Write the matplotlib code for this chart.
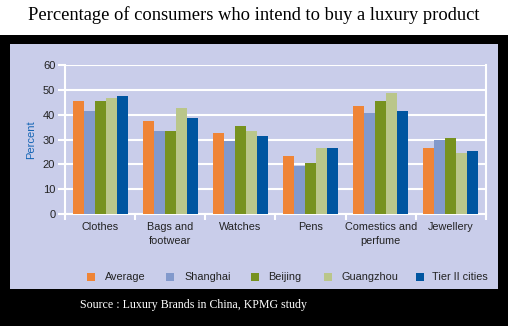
import matplotlib
matplotlib.use("Agg")
import matplotlib.pyplot as plt
import numpy as np
from matplotlib.patches import Rectangle

categories = ["Clothes", "Bags and\nfootwear", "Watches", "Pens", "Comestics and\nperfume", "Jewellery"]
series_names = ["Average", "Shanghai", "Beijing", "Guangzhou", "Tier II cities"]
average = [45.5, 37.5, 32.7, 23.4, 43.5, 26.6]
shanghai = [41.5, 33.4, 29.5, 19.4, 40.7, 29.8]
beijing = [45.5, 33.4, 35.5, 20.6, 45.5, 30.6]
guangzhou = [46.8, 42.7, 33.4, 26.6, 48.7, 24.6]
tier2 = [47.5, 38.7, 31.4, 26.6, 41.5, 25.4]
yticks = [0, 10, 20, 30, 40, 50, 60]

colors = ["#EF8436", "#8299CC", "#77921F", "#BAC68A", "#0055A0"]
panel_bg = "#C9CDEA"
sans = ["Liberation Sans", "DejaVu Sans"]
serif = ["Liberation Serif", "DejaVu Serif"]
W, H = 508.0, 326.0

fig = plt.figure(figsize=(5.08, 3.26), dpi=100)
fig.patch.set_facecolor("white")

# black frame and panel
fig.patches.append(Rectangle((0, 0), 1, 0.8926, transform=fig.transFigure,
                             facecolor="black", edgecolor="none", zorder=-5))
fig.patches.append(Rectangle((10 / W, 1 - 289 / H), 488 / W, 245 / H, transform=fig.transFigure,
                             facecolor=panel_bg, edgecolor="none", zorder=-4))

ax = fig.add_axes([65 / W, 1 - 214 / H, 421 / W, 149 / H])
ax.set_zorder(2)
ax.set_facecolor("none")

data = [average, shanghai, beijing, guangzhou, tier2]
x = np.arange(len(categories))
bw = 0.157
for i, (vals, c) in enumerate(zip(data, colors)):
    ax.bar(x + (i - 2) * bw, vals, width=bw, color=c, zorder=3, linewidth=0)

ax.set_xlim(-0.5, len(categories) - 0.5)
ax.set_ylim(0, 60)
ax.set_yticks(yticks)
ax.set_yticklabels([str(v) for v in yticks], family=sans, fontsize=8, color="#222222")
ax.grid(axis="y", color="white", linewidth=1.5, zorder=1)
ax.set_xticks(x)
ax.set_xticklabels(categories, family=sans, fontsize=7.8, color="#222222", linespacing=1.45)
ax.tick_params(axis="x", length=0, pad=6)
ax.set_xticks(np.arange(-0.5, len(categories)), minor=True)
ax.tick_params(axis="x", which="minor", length=4, color="white", width=1.5, direction="out")
ax.tick_params(axis="y", length=5, color="white", width=1.5, pad=2)
for s in ["left", "right", "bottom"]:
    ax.spines[s].set_color("white")
    ax.spines[s].set_linewidth(1.5)
ax.spines["top"].set_visible(False)

ax.set_ylabel("Percent", family=sans, fontsize=8, color="#1565B5", labelpad=5)

# legend, laid out by hand to match the reference spacing
marker_x = [87, 166, 251, 324, 416]
text_x = [105, 184, 268, 342, 432]
ly = 277
for mx, tx, name, c in zip(marker_x, text_x, series_names, colors):
    fig.patches.append(Rectangle((mx / W, 1 - (ly + 4) / H), 8 / W, 8 / H,
                                 transform=fig.transFigure, facecolor=c,
                                 edgecolor="none", zorder=3))
    fig.text(tx / W, 1 - ly / H, name, ha="left", va="center", family=sans,
             fontsize=7.8, color="#222222")

fig.text(0.5, 0.955, "Percentage of consumers who intend to buy a luxury product",
         ha="center", va="center", family=serif, fontsize=13.3, color="black")
fig.text(193 / W, 1 - 305 / H, "Source : Luxury Brands in China, KPMG study",
         ha="center", va="center", family=serif, fontsize=8.6, color="white")

fig.savefig("out.png", dpi=100, facecolor=fig.get_facecolor())
